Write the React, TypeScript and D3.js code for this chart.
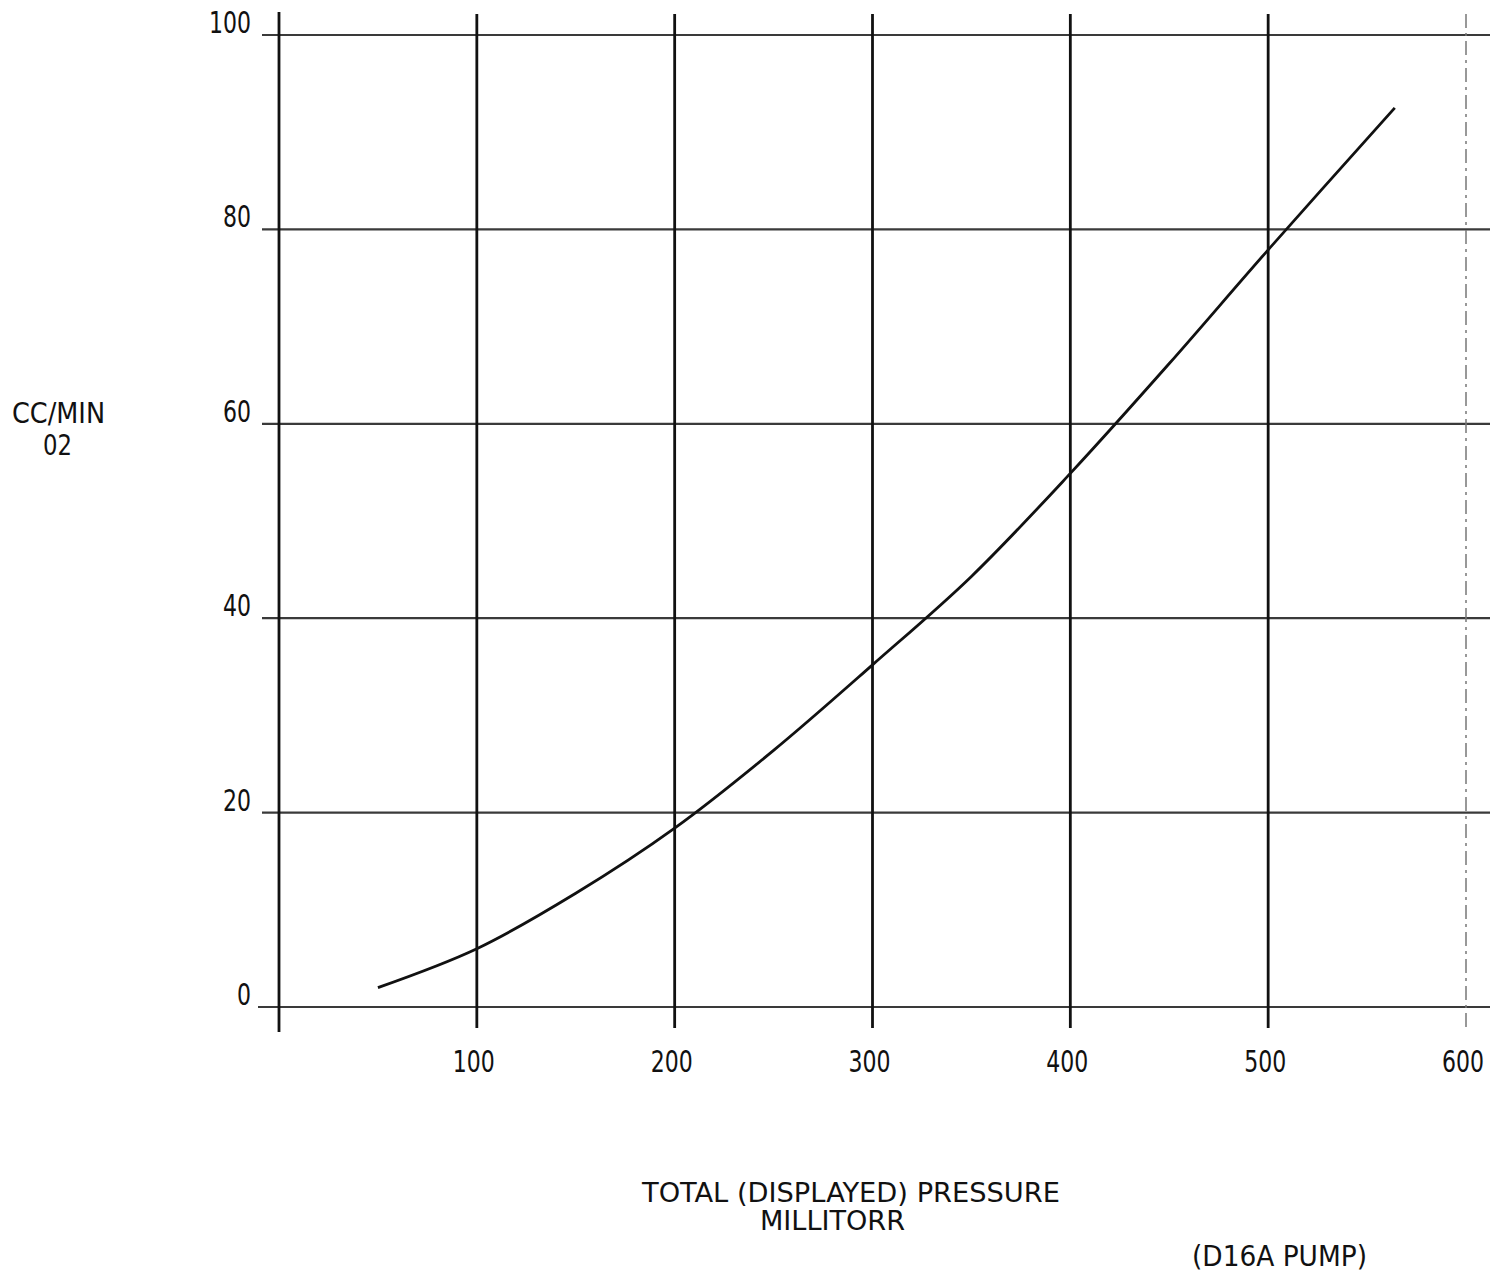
import React from 'react';
import * as d3 from 'd3';

// values (pressure in millitorr, flow in cc/min O2)
const pressure = [50, 100, 150, 200, 250, 300, 350, 400, 450, 500, 564];
const flow = [2, 6, 11.7, 18.4, 26.4, 35.2, 44.3, 54.9, 66.2, 77.9, 92.5];

const xTicks = [0, 100, 200, 300, 400, 500, 600];
const yTicks = [0, 20, 40, 60, 80, 100];
const xTickLabels = ['', '100', '200', '300', '400', '500', '600'];

const W = 1500;
const H = 1276;
const FONT = "'DejaVu Sans Condensed', 'DejaVu Sans', sans-serif";
const DIGIT = 14; // width of a typed digit in the reference

export default function App() {
  const x = d3.scaleLinear().domain([0, 600]).range([279, 1466]);
  const y = d3.scaleLinear().domain([0, 100]).range([1007, 35]);

  const points = pressure.map((p, i) => [p, flow[i]] as [number, number]);
  const line = d3
    .line<[number, number]>()
    .x(d => x(d[0]))
    .y(d => y(d[1]))
    .curve(d3.curveCatmullRom.alpha(0.5));

  return (
    <div style={{ position: 'absolute', left: 0, top: 0 }}>
      <svg width={W} height={H} style={{ display: 'block', background: '#fff' }}>
        {/* horizontal grid */}
        {yTicks.map(t => (
          <line
            key={'h' + t}
            x1={t === 0 ? 258 : 262}
            x2={1490}
            y1={y(t)}
            y2={y(t)}
            stroke="#3a3a3a"
            strokeWidth={2.2}
          />
        ))}
        {/* vertical grid */}
        {xTicks.map(t => (
          <line
            key={'v' + t}
            x1={x(t)}
            x2={x(t)}
            y1={t === 0 ? 12 : 14}
            y2={t === 0 ? 1032 : 1028}
            stroke={t === 600 ? '#777' : '#111'}
            strokeWidth={t === 600 ? 1.5 : 2.8}
            strokeDasharray={t === 600 ? '14 5 3 5' : undefined}
          />
        ))}

        {/* curve */}
        <path d={line(points) || ''} fill="none" stroke="#111" strokeWidth={2.8} />

        {/* y tick labels */}
        {yTicks.map(t => (
          <text
            key={'yl' + t}
            x={251 - DIGIT * String(t).length}
            y={y(t) - 2}
            fontFamily={FONT}
            fontSize={30}
            fill="#111"
            textLength={DIGIT * String(t).length}
            lengthAdjust="spacingAndGlyphs"
          >
            {t}
          </text>
        ))}
        {/* x tick labels */}
        {xTicks.map((t, i) =>
          xTickLabels[i] ? (
            <text
              key={'xl' + t}
              x={x(t) - 3 - (DIGIT * xTickLabels[i].length) / 2}
              y={1072}
              fontFamily={FONT}
              fontSize={30}
              fill="#111"
              textLength={DIGIT * xTickLabels[i].length}
              lengthAdjust="spacingAndGlyphs"
            >
              {xTickLabels[i]}
            </text>
          ) : null
        )}

        {/* axis titles */}
        <text x={12} y={423} fontFamily={FONT} fontSize={29} fill="#111" textLength={93} lengthAdjust="spacingAndGlyphs">
          CC/MIN
        </text>
        <text x={43} y={455} fontFamily={FONT} fontSize={29} fill="#111" textLength={29} lengthAdjust="spacingAndGlyphs">
          02
        </text>
        <text x={642} y={1202} fontFamily={FONT} fontSize={27} fill="#111" textLength={418} lengthAdjust="spacingAndGlyphs">
          TOTAL (DISPLAYED) PRESSURE
        </text>
        <text x={760} y={1230} fontFamily={FONT} fontSize={26} fill="#111" textLength={145} lengthAdjust="spacingAndGlyphs">
          MILLITORR
        </text>
        <text x={1192} y={1266} fontFamily={FONT} fontSize={28} fill="#111" textLength={175} lengthAdjust="spacingAndGlyphs">
          (D16A PUMP)
        </text>
      </svg>
    </div>
  );
}
